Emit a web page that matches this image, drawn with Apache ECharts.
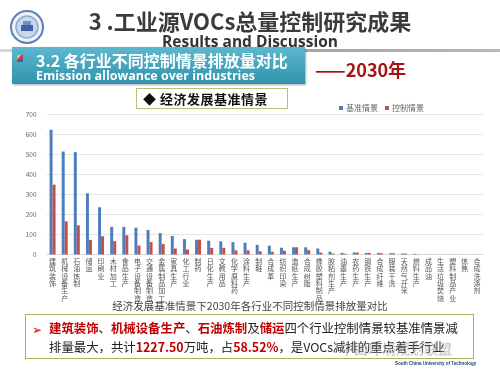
<!DOCTYPE html>
<html>
<head>
<meta charset="utf-8">
<script src="https://cdn.jsdelivr.net/npm/echarts@6/dist/echarts.min.js"></script>
<style>
  html, body { margin: 0; padding: 0; background: #fff; }
  #slide { position: relative; width: 500px; height: 375px; overflow: hidden; background: #fff;
    font-family: "Noto Sans CJK SC", "Noto Sans", sans-serif; }
  #chart { position: absolute; left: 0; top: 0; width: 500px; height: 375px; }
  .abs { position: absolute; white-space: nowrap; }
  .title { left: 0; width: 500px; top: 4px; text-align: center; font-size: 22px; font-weight: bold; color: #3b3b3b; }
  .subtitle { left: 0; width: 500px; top: 30px; text-align: center; font-size: 15.5px; font-weight: bold; color: #333;
    font-family: "Open Sans", sans-serif; }
  .rule { left: 0; top: 49px; width: 500px; height: 3px; background: linear-gradient(to right, #d8d8d8, #9a9a9a 40%, #b8b8b8); }
  .band { left: 12px; top: 47px; width: 293px; height: 37px;
    background: linear-gradient(#5db8cd, #2e93ad); box-shadow: 1px 1px 2px rgba(0,0,0,.35); }
  .band .h { position: absolute; left: 24px; top: 1px; font-size: 16px; font-weight: bold; color: #fff; }
  .band .e { position: absolute; left: 24px; top: 19.5px; font-size: 12.5px; font-weight: bold; color: #fff;
    font-family: "Open Sans", sans-serif; }
  .band .ic { position: absolute; left: 5px; top: 8px; width: 6px; height: 7px;
    background: linear-gradient(135deg, #f2c230 35%, #d9342b 35%, #d9342b 65%, #3a5fc9 65%); }
  .year { left: 315px; top: 56px; font-size: 18px; font-weight: bold; color: #a31414; }
  .scen { left: 136px; top: 88px; width: 144px; height: 19px; border: 1.5px solid #b9c07e;
    font-size: 13px; font-weight: bold; color: #111; line-height: 19px; padding-left: 6px; letter-spacing: 0.5px; }
  .note { left: 25px; top: 314px; width: 447px; height: 43px; border: 1.5px solid #a9b35f; }
  .note .l { position: absolute; left: 23px; font-size: 12.4px; color: #222; }
  .note .r { color: #c00000; font-weight: bold; }
  .note .arr { position: absolute; left: 6px; top: 5px; font-size: 12px; color: #c00000; }
  .wm { left: 340px; top: 338px; font-size: 14px; color: rgba(150,150,150,.45); font-weight: bold; }
  .scut { left: 395px; top: 361px; font-size: 4.5px; color: #1f3f7a; font-family: "Liberation Sans", sans-serif; font-weight: bold; }
</style>
</head>
<body>
<div id="slide">
  <div id="chart"></div>
  <div class="abs title">3 .工业源VOCs总量控制研究成果</div>
  <div class="abs subtitle">Results and Discussion</div>
  <div class="abs rule"></div>
  <div class="abs band">
    <div class="ic"></div>
    <div class="h">3.2 各行业不同控制情景排放量对比</div>
    <div class="e">Emission allowance over industries</div>
  </div>
  <div class="abs year">——2030年</div>
  <div class="abs scen">◆ 经济发展基准情景</div>
  <div class="abs note">
    <div class="arr">➢</div>
    <div class="l" style="top:4px"><span class="r">建筑装饰</span>、<span class="r">机械设备生产</span>、<span class="r">石油炼制</span>及<span class="r">储运</span>四个行业控制情景较基准情景减</div>
    <div class="l" style="top:23px">排量最大，共计<span class="r">1227.50</span>万吨，占<span class="r">58.52%</span>，是VOCs减排的重点着手行业</div>
  </div>
  <div class="abs wm">中国环境规划联盟</div>
  <div class="abs scut">South China University of Technology</div>
</div>
<script>
const industries = [
  '建筑装饰', '机械设备生产', '石油炼制', '储运', '印刷业', '木材加工', '食品生产', '电子设备制造',
  '交通设备制造', '金属制品加工', '家具生产', '化工行业', '制药', '日化生产', '文教用品', '化学原料药',
  '涂料生产', '制鞋', '合成革', '纺织印染', '造纸生产', '合成树脂', '橡胶塑料制品', '胶粘剂生产',
  '油墨生产', '农药生产', '钢铁生产', '合成纤维', '服装干洗', '天然气开采', '燃料生产', '成品油',
  '生活垃圾焚烧', '塑料制品产业', '炼焦', '合成洗涤剂'
]
const baseline = [
  624, 515, 512, 306, 236, 138, 138, 134, 123, 107, 93, 77, 74, 69, 66, 62,
  59, 48, 44, 34, 36, 36, 30, 14, 8, 10, 8, 8, 6, 5, 3, 0.6,
  0.5, 0.4, 0.3, 0.3
]
const controlled = [
  349, 166, 146, 73, 91, 67, 96, 45, 62, 52, 30, 25, 74, 33, 33, 21,
  21, 16, 14, 19, 36, 22, 10, 5, 4, 10, 8, 6, 6, 4, 1, 0.3,
  0.2, 0.2, 0.1, 0.1
]
const yTicks = [0, 100, 200, 300, 400, 500, 600, 700]

const chart = echarts.init(document.getElementById('chart'))

const option = {
  animation: false,
  textStyle: { fontFamily: '"Noto Sans CJK SC", sans-serif' },
  title: {
    text: '经济发展基准情景下2030年各行业不同控制情景排放量对比',
    left: 'center',
    top: 296,
    textStyle: { fontSize: 10.5, fontWeight: 'normal', color: '#444' }
  },
  // school emblem, top left
  graphic: [
    { type: 'circle', shape: { cx: 27, cy: 27, r: 16 }, style: { fill: '#eef3fa', stroke: '#5d7fb4', lineWidth: 2 } },
    { type: 'circle', shape: { cx: 27, cy: 27, r: 11 }, style: { fill: '#c9d7ec', stroke: '#8fa9d2', lineWidth: 1.5 } },
    { type: 'rect', shape: { x: 21, y: 25, width: 12, height: 6 }, style: { fill: '#3f63a8' } },
    { type: 'rect', shape: { x: 23, y: 21, width: 8, height: 4 }, style: { fill: '#6f8fc6' } }
  ],
  legend: {
    data: ['基准情景', '控制情景'],
    left: 334,
    top: 99,
    itemWidth: 4,
    itemHeight: 4,
    itemGap: 7,
    icon: 'rect',
    textStyle: { fontSize: 8, color: '#666', padding: [0, 0, 0, -2] }
  },
  grid: { left: 46.5, right: 17, top: 114.5, bottom: 120.5 },
  xAxis: {
    type: 'category',
    data: industries,
    axisLine: { lineStyle: { color: '#d9d9d9' } },
    axisTick: { show: false },
    axisLabel: {
      interval: 0,
      fontSize: 7,
      lineHeight: 7.4,
      color: '#555',
      margin: 3,
      verticalAlign: 'top',
      formatter: v => v.split('').join('\n')
    }
  },
  yAxis: {
    type: 'value',
    min: yTicks[0],
    max: yTicks[yTicks.length - 1],
    interval: 100,
    axisLine: { show: false },
    axisTick: { show: false },
    axisLabel: { fontSize: 6.5, color: '#666', margin: 10 },
    splitLine: { lineStyle: { color: '#e6e6e6' } }
  },
  series: [
    {
      name: '基准情景',
      type: 'bar',
      data: baseline,
      barWidth: 3,
      barGap: '0%',
      itemStyle: { color: '#4f7fbb' }
    },
    {
      name: '控制情景',
      type: 'bar',
      data: controlled,
      barWidth: 3,
      itemStyle: { color: '#c0504d' }
    }
  ]
}

chart.setOption(option)
</script>
</body>
</html>
